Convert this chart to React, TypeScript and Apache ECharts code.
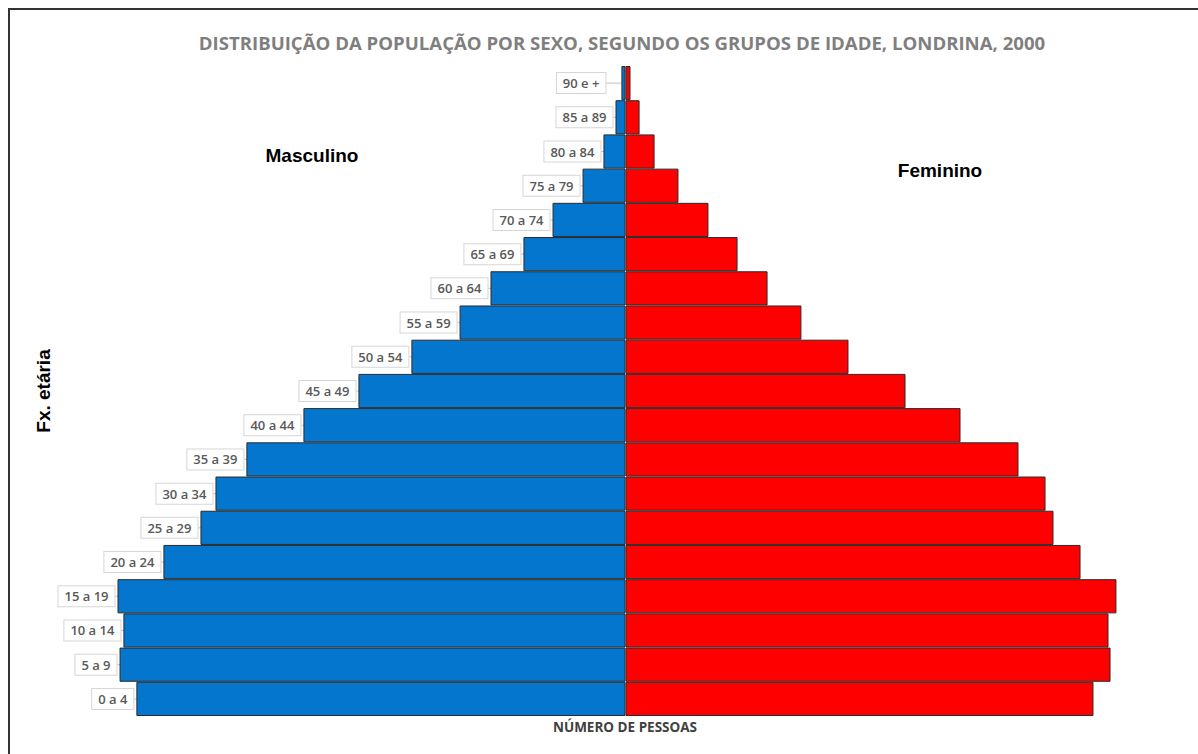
import React, { useEffect, useRef } from "react";
import * as echarts from "echarts";

const ageGroups = [
  "0 a 4", "5 a 9", "10 a 14", "15 a 19", "20 a 24", "25 a 29", "30 a 34",
  "35 a 39", "40 a 44", "45 a 49", "50 a 54", "55 a 59", "60 a 64", "65 a 69",
  "70 a 74", "75 a 79", "80 a 84", "85 a 89", "90 e +",
];
const male = [
  21520, 22260, 22090, 22350, 20330, 18700, 18040, 16680, 14170, 11750,
  9420, 7300, 5940, 4490, 3210, 1890, 970, 440, 180,
];
const female = [
  20590, 21340, 21250, 21600, 20020, 18830, 18480, 17290, 14740, 12320,
  9810, 7740, 6250, 4930, 3650, 2330, 1280, 620, 220,
];
const titleText = "DISTRIBUIÇÃO DA POPULAÇÃO POR SEXO, SEGUNDO OS GRUPOS DE IDADE, LONDRINA, 2000";

export default function App() {
  const ref = useRef<HTMLDivElement>(null);
  useEffect(() => {
    if (!ref.current) return;
    const chart = echarts.init(ref.current, null, { renderer: "svg" });
    chart.setOption({
      animation: false,
      backgroundColor: "#ffffff",
      title: {
        text: titleText,
        left: 617,
        top: 28,
        textAlign: "center",
        textStyle: {
          fontFamily: "Open Sans",
          fontWeight: "bold",
          fontSize: 18.6,
          color: "#7f7f7f",
        },
      },
      grid: { left: 80, right: 27, top: 66, bottom: 38 },
      xAxis: {
        type: "value",
        min: -24000,
        max: 24000,
        axisLine: { show: false },
        axisTick: { show: false },
        axisLabel: { show: false },
        splitLine: { show: false },
      },
      yAxis: {
        type: "category",
        data: ageGroups,
        show: false,
      },
      series: [
        {
          name: "Masculino",
          type: "bar",
          stack: "pop",
          barCategoryGap: "0%",
          data: male.map((v) => -v),
          itemStyle: { color: "#0576CD", borderColor: "#2b2b2b", borderWidth: 1 },
          label: {
            show: true,
            position: "left",
            distance: 3,
            formatter: (p: any) => p.name,
            backgroundColor: "#ffffff",
            borderColor: "#d6d6d6",
            borderWidth: 1,
            padding: [4, 6, 3, 6],
            color: "#595959",
            fontFamily: "Open Sans",
            fontWeight: 600,
            fontSize: 13,
          },
          labelLine: { show: true, lineStyle: { color: "#bfbfbf", width: 1 } },
          labelLayout: (p: any) => (p.dataIndex === 18 ? { dx: -13 } : {}),
        },
        {
          name: "Feminino",
          type: "bar",
          stack: "pop",
          barCategoryGap: "0%",
          data: female,
          itemStyle: { color: "#FF0000", borderColor: "#2b2b2b", borderWidth: 1 },
        },
      ],
      graphic: [
        {
          type: "rect",
          shape: { x: 9, y: 9, width: 1400, height: 1000 },
          style: { fill: "none", stroke: "#333333", lineWidth: 2 },
          silent: true,
        },
        {
          type: "text",
          x: 312,
          y: 155,
          style: {
            text: "Masculino",
            align: "center",
            verticalAlign: "middle",
            font: "bold 19px 'Liberation Sans', Arial, sans-serif",
            fill: "#000000",
          },
        },
        {
          type: "text",
          x: 940,
          y: 170,
          style: {
            text: "Feminino",
            align: "center",
            verticalAlign: "middle",
            font: "bold 19px 'Liberation Sans', Arial, sans-serif",
            fill: "#000000",
          },
        },
        {
          type: "text",
          x: 43,
          y: 391,
          rotation: Math.PI / 2,
          style: {
            text: "Fx. etária",
            align: "center",
            verticalAlign: "middle",
            font: "bold 19px 'Liberation Sans', Arial, sans-serif",
            fill: "#000000",
          },
        },
        {
          type: "text",
          x: 625,
          y: 727,
          style: {
            text: "NÚMERO DE PESSOAS",
            align: "center",
            verticalAlign: "middle",
            font: "bold 13.5px 'Open Sans', sans-serif",
            fill: "#404040",
          },
        },
      ],
    });
    return () => chart.dispose();
  }, []);
  return (
    <div
      ref={ref}
      style={{ position: "fixed", left: 0, top: 0, width: 1198, height: 754 }}
    />
  );
}
